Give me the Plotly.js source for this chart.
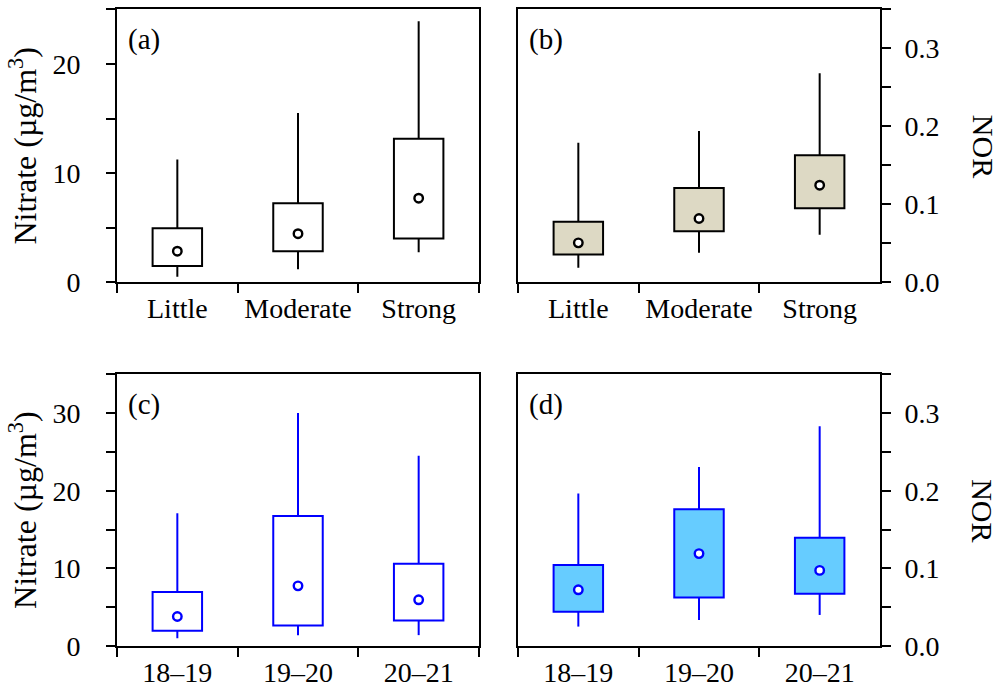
<!DOCTYPE html>
<html>
<head>
<meta charset="utf-8">
<script src="https://cdn.plot.ly/plotly-3.0.1.min.js"></script>
<style>
  html, body { margin: 0; padding: 0; background: #fff; }
  #chart { width: 1001px; height: 693px; }
</style>
</head>
<body>
<div id="chart"></div>
<script>
// Categories
const regimes = ['Little', 'Moderate', 'Strong'];
const seasons = ['18\u201319', '19\u201320', '20\u201321'];

// (a) Nitrate by regime (µg/m3)
const nitrateRegimeLow  = [0.5, 1.2, 2.75];
const nitrateRegimeQ1   = [1.5, 2.85, 4.0];
const nitrateRegimeQ3   = [4.95, 7.25, 13.15];
const nitrateRegimeHigh = [11.25, 15.5, 23.9];
const nitrateRegimeMean = [2.85, 4.45, 7.7];

// (b) NOR by regime
const norRegimeLow  = [0.0185, 0.038, 0.061];
const norRegimeQ1   = [0.0356, 0.0655, 0.095];
const norRegimeQ3   = [0.0775, 0.121, 0.163];
const norRegimeHigh = [0.179, 0.194, 0.268];
const norRegimeMean = [0.0506, 0.0818, 0.1245];

// (c) Nitrate by season (µg/m3)
const nitrateSeasonLow  = [1.0, 1.4, 1.4];
const nitrateSeasonQ1   = [1.95, 2.65, 3.3];
const nitrateSeasonQ3   = [6.95, 16.75, 10.6];
const nitrateSeasonHigh = [17.1, 30.0, 24.5];
const nitrateSeasonMean = [3.8, 7.75, 5.95];

// (d) NOR by season
const norSeasonLow  = [0.025, 0.0336, 0.040];
const norSeasonQ1   = [0.044, 0.0625, 0.0673];
const norSeasonQ3   = [0.1044, 0.176, 0.1393];
const norSeasonHigh = [0.1966, 0.2307, 0.283];
const norSeasonMean = [0.0724, 0.119, 0.0974];

const FONT = '"Liberation Serif", "Times New Roman", Times, serif';

// Whiskers: one segment from the lower fence to Q1 and one from Q3 to the upper fence
function whiskerTrace(cats, low, q1, q3, high, color, xa, ya) {
  const xs = [], ys = [];
  cats.forEach((c, i) => {
    xs.push(c, c, null, c, c, null);
    ys.push(low[i], q1[i], null, q3[i], high[i], null);
  });
  return {
    type: 'scatter', mode: 'lines', x: xs, y: ys, connectgaps: false,
    line: { color: color, width: 2 },
    xaxis: xa, yaxis: ya, hoverinfo: 'skip', showlegend: false, cliponaxis: false
  };
}
// Interquartile box: bar from Q1 up to Q3
function iqrTrace(cats, q1, q3, color, fill, xa, ya) {
  return {
    type: 'bar', x: cats, base: q1, y: q3.map((v, i) => v - q1[i]),
    width: 0.41, marker: { color: fill, line: { color: color, width: 2 } },
    xaxis: xa, yaxis: ya, hoverinfo: 'skip', showlegend: false
  };
}
function meanTrace(cats, mean, color, xa, ya) {
  return {
    type: 'scatter', mode: 'markers', x: cats, y: mean,
    marker: { symbol: 'circle', size: 8.5, color: '#ffffff',
              line: { color: color, width: 2.4 } },
    xaxis: xa, yaxis: ya, hoverinfo: 'skip', showlegend: false
  };
}
function panel(cats, low, q1, q3, high, mean, color, fill, xa, ya) {
  return [
    whiskerTrace(cats, low, q1, q3, high, color, xa, ya),
    iqrTrace(cats, q1, q3, color, fill, xa, ya),
    meanTrace(cats, mean, color, xa, ya)
  ];
}

const data = [].concat(
  panel(regimes, nitrateRegimeLow, nitrateRegimeQ1, nitrateRegimeQ3, nitrateRegimeHigh, nitrateRegimeMean, '#000000', '#ffffff', 'x', 'y'),
  panel(regimes, norRegimeLow, norRegimeQ1, norRegimeQ3, norRegimeHigh, norRegimeMean, '#000000', '#ddd9c4', 'x2', 'y2'),
  panel(seasons, nitrateSeasonLow, nitrateSeasonQ1, nitrateSeasonQ3, nitrateSeasonHigh, nitrateSeasonMean, '#0000ff', '#ffffff', 'x3', 'y3'),
  panel(seasons, norSeasonLow, norSeasonQ1, norSeasonQ3, norSeasonHigh, norSeasonMean, '#0000ff', '#66ccff', 'x4', 'y4')
);

const W = 1001, H = 693;
const colL = [117 / W, 479 / W];
const colR = [518 / W, 880 / W];
const rowT = [1 - 282.3 / H, 1 - 9.3 / H];
const rowB = [1 - 646 / H, 1 - 374.3 / H];

const tickFont = { family: FONT, size: 28, color: '#000' };

function xAxis(domain, anchor) {
  return {
    domain: domain, anchor: anchor, type: 'category', range: [-0.5, 2.5],
    tickson: 'boundaries', ticks: 'outside', ticklen: 9, tickwidth: 2,
    tickcolor: '#000', showline: true, linecolor: '#000', linewidth: 2,
    mirror: true, showgrid: false, zeroline: false, tickfont: tickFont,
    ticklabelstandoff: 0, fixedrange: true
  };
}
function yAxis(domain, anchor, range, dtick, side, fmt, title) {
  const ax = {
    domain: domain, anchor: anchor, range: range, side: side,
    dtick: dtick, tick0: 0, ticks: 'outside', ticklen: 9, tickwidth: 2,
    tickcolor: '#000', showline: true, linecolor: '#000', linewidth: 2,
    mirror: true, showgrid: false, zeroline: false, tickfont: tickFont,
    tickformat: fmt, ticklabelstandoff: side === 'left' ? 20 : 8,
    minor: { dtick: dtick / 2, tick0: 0, ticks: 'outside', ticklen: 9,
             tickwidth: 2, tickcolor: '#000', showgrid: false },
    fixedrange: true
  };
  if (title) {
    ax.title = { text: title, font: { family: FONT, size: 32, color: '#000' }, standoff: 6 };
  }
  return ax;
}

const nitrateTitle = 'Nitrate (\u00b5g/m<sup>3</sup>)';

const panelLabel = (text, xref, yref) => ({
  text: text, xref: xref + ' domain', yref: yref + ' domain',
  x: 0.025, y: 0.89, xanchor: 'left', yanchor: 'middle', showarrow: false,
  font: { family: FONT, size: 29, color: '#000' }
});
const norTitle = (yref) => ({
  text: 'NOR', xref: 'paper', yref: yref + ' domain',
  x: 983 / W, y: 0.5, xanchor: 'center', yanchor: 'middle', showarrow: false,
  textangle: 90, font: { family: FONT, size: 30, color: '#000' }
});

const layout = {
  width: W, height: H,
  margin: { l: 0, r: 0, t: 0, b: 0 },
  paper_bgcolor: '#ffffff', plot_bgcolor: '#ffffff',
  showlegend: false, barmode: 'overlay',
  font: { family: FONT, color: '#000' },
  xaxis:  xAxis(colL, 'y'),
  yaxis:  yAxis(rowT, 'x', [0, 25], 10, 'left', 'd', nitrateTitle),
  xaxis2: xAxis(colR, 'y2'),
  yaxis2: yAxis(rowT, 'x2', [0, 0.35], 0.1, 'right', '.1f', null),
  xaxis3: xAxis(colL, 'y3'),
  yaxis3: yAxis(rowB, 'x3', [0, 35], 10, 'left', 'd', nitrateTitle),
  xaxis4: xAxis(colR, 'y4'),
  yaxis4: yAxis(rowB, 'x4', [0, 0.35], 0.1, 'right', '.1f', null),
  annotations: [
    panelLabel('(a)', 'x', 'y'),
    panelLabel('(b)', 'x2', 'y2'),
    panelLabel('(c)', 'x3', 'y3'),
    panelLabel('(d)', 'x4', 'y4'),
    norTitle('y2'),
    norTitle('y4')
  ]
};

Plotly.newPlot('chart', data, layout, { staticPlot: true, displayModeBar: false });
</script>
</body>
</html>
